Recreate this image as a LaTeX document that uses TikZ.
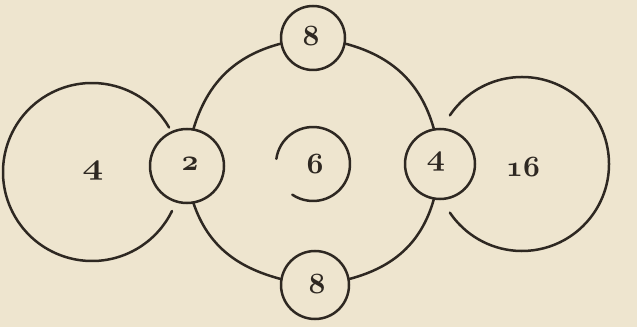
\documentclass[tikz,border=0pt]{standalone}
\usepackage{xcolor}
\usetikzlibrary{calc}
\definecolor{paper}{HTML}{EEE5CF}
\definecolor{ink}{HTML}{2E2822}
\newcommand{\osnum}{\fontencoding{OML}\fontfamily{cmm}\fontseries{b}\fontshape{it}\fontsize{24.88}{25}\selectfont}
\newcommand{\dgt}[2][1]{\scalebox{#1}[1]{\scalebox{1.18}{\osnum #2}}}
\tikzset{
  ring/.style={draw=ink, line width=2.5pt, circle, inner sep=0pt},
  arcline/.style={draw=ink, line width=2.5pt, line cap=round},
  lab/.style={text=ink, inner sep=0pt}
}
\begin{document}
\begin{tikzpicture}[x=1pt,y=1pt]
\fill[paper] (0,0) rectangle (637,327);
\useasboundingbox (0,0) rectangle (637,327);
% small circles
\node[ring, minimum size=74pt] (c2) at (187,161) {};
\node[ring, minimum size=70pt] (c4) at (440,163) {};
\node[ring, minimum size=64pt] (t8) at (313,289) {};
\node[ring, minimum size=68pt] (b8) at (315,42) {};
% labels
\node[lab] (l2) at (190,163) {\dgt{2}};
\node[lab] (l4r) at (436,165) {\dgt[1.1]{4}};
\node[lab] (l8t) at (311,291) {\dgt{8}};
\node[lab] (l8b) at (317,43) {\dgt{8}};
\node[lab] (l4) at (93,156) {\dgt[1.25]{4}};
\node[lab] (l6) at (315,163) {\dgt{6}};
\node[lab] (l16) at (523,160) {\dgt{16}};
% central ring arcs
\draw[arcline] (c2.80) to[out=73,in=195] (t8.190);
\draw[arcline] (t8.-10) to[out=-15,in=106] (c4.100);
\draw[arcline] (c2.-80) to[out=-71,in=165] (b8.170);
\draw[arcline] (b8.10) to[out=15,in=-106] (c4.-100);
% left big circle
\coordinate (lc) at (92,155);
\draw[arcline] ($(lc)+(30:89)$) arc[start angle=30, end angle=334, radius=89];
% right loop
\coordinate (rc) at (522,163);
\draw[arcline] ($(rc)+(146:87)$) arc[start angle=146, end angle=-146, radius=87];
% arc around 6
\draw[arcline] ($(l6)+(-2,0)+(172:37)$) arc[start angle=172, end angle=-124, radius=37];
\end{tikzpicture}
\end{document}
